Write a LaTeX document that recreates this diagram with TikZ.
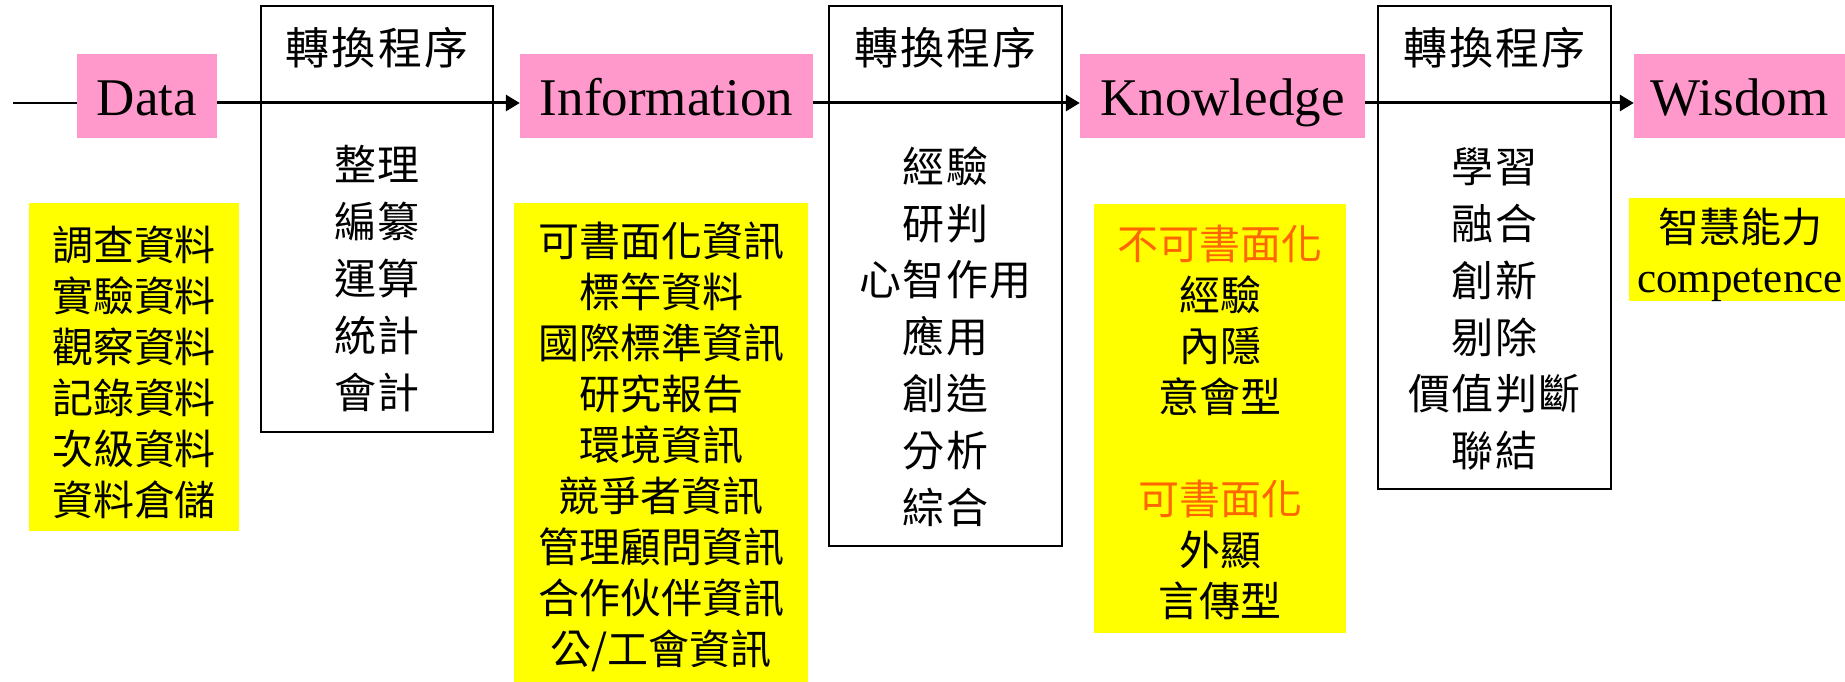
\documentclass[tikz,border=0pt]{standalone}
\usepackage{fontspec}
\setmainfont{Liberation Serif}
\newfontfamily\cjk{Noto Sans CJK TC}
\newfontfamily\cjkwide[LetterSpace=5]{Noto Sans CJK TC}
\newfontfamily\cjkmid[LetterSpace=3]{Noto Sans CJK TC}
\usetikzlibrary{arrows.meta}
\definecolor{pinkfill}{RGB}{255,153,204}
\definecolor{yelfill}{RGB}{255,255,0}
\definecolor{orangetxt}{RGB}{255,102,0}
\tikzset{
  pinkbox/.style={fill=pinkfill, inner sep=0pt, minimum height=84pt,
    font=\fontsize{53}{60}\selectfont, text height=45pt, text depth=5pt},
  procbox/.style={draw=black, line width=2pt, inner sep=0pt},
  head/.style={font=\cjkwide\fontsize{44}{50}\selectfont, inner sep=0pt},
  boxlist/.style={font=\cjkmid\fontsize{42}{56.8}\selectfont, align=center, inner sep=0pt},
  ybox/.style={fill=yelfill, inner sep=0pt},
  ylist/.style={font=\cjk\fontsize{41}{51}\selectfont, align=center, inner sep=0pt},
  flow/.style={line width=3pt, -{Triangle[length=14pt,width=16pt]}},
  lead/.style={line width=2pt}
}
\begin{document}
\begin{tikzpicture}[x=1pt,y=-1pt]
\useasboundingbox (0,0) rectangle (1845,682);
% yellow boxes
\node[ybox, minimum width=210pt, minimum height=328pt] (yd) at (134,367) {};
\node[ybox, minimum width=294pt, minimum height=479pt] (yi) at (661,442.5) {};
\node[ybox, minimum width=252pt, minimum height=429pt] (yk) at (1220,418.5) {};
\node[ybox, minimum width=216pt, minimum height=103pt] (yw) at (1737,249.5) {};
% yellow lists
\node[ylist] (dl) at (134,372) {調查資料\\實驗資料\\觀察資料\\記錄資料\\次級資料\\資料倉儲};
\node[ylist] (il) at (661,447) {可書面化資訊\\標竿資料\\國際標準資訊\\研究報告\\環境資訊\\競爭者資訊\\管理顧問資訊\\合作伙伴資訊\\公/工會資訊};
\node[ylist] (kl) at (1220,422) {{\color{orangetxt}不可書面化}\\經驗\\內隱\\意會型\\[51pt]{\color{orangetxt}可書面化}\\外顯\\言傳型};
\node[ylist, font=\fontsize{41}{50}\selectfont] (wl) at (1740,255) {{\cjk 智慧能力}\\{\fontsize{43}{50}\selectfont competence}};
% process boxes
\node[procbox, minimum width=232pt, minimum height=426pt] (t1) at (377,219) {};
\node[procbox, minimum width=233pt, minimum height=540pt] (t2) at (945.5,276) {};
\node[procbox, minimum width=233pt, minimum height=483pt] (t3) at (1494.5,247.5) {};
\node[head] (h1) at (377,48) {轉換程序};
\node[head] (h2) at (945.5,48) {轉換程序};
\node[head] (h3) at (1494.5,48) {轉換程序};
\node[boxlist] (l1) at (377,278.5) {整理\\編纂\\運算\\統計\\會計};
\node[boxlist] (l2) at (945.5,336.5) {經驗\\研判\\心智作用\\應用\\創造\\分析\\綜合};
\node[boxlist] (l3) at (1494.5,309) {學習\\融合\\創新\\剔除\\價值判斷\\聯結};
% pink boxes
\node[pinkbox, minimum width=140pt] (data) at (147,96) {Data};
\node[pinkbox, minimum width=293pt] (info) at (666.5,96) {Information};
\node[pinkbox, minimum width=285pt] (know) at (1222.5,96) {Knowledge};
\node[pinkbox, minimum width=211pt] (wis) at (1739.5,96) {Wisdom};
% connectors
\coordinate (start) at (13,103);
\draw[lead] (start) -- (data.west |- start);
\draw[flow] (data.east |- start) -- (info.west |- start);
\draw[flow] (info.east |- start) -- (know.west |- start);
\draw[flow] (know.east |- start) -- (wis.west |- start);
\end{tikzpicture}
\end{document}
